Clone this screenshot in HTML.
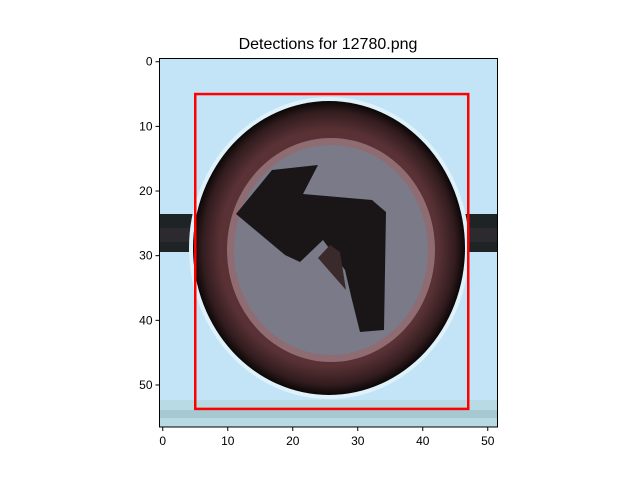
<!DOCTYPE html>
<html><head><meta charset="utf-8"><style>
body{margin:0;background:#fff;}
svg{display:block;font-family:"Liberation Sans","DejaVu Sans",sans-serif;}
</style></head><body>
<svg id="chart" width="640" height="480" viewBox="0 0 640 480">
<text x="328" y="49" font-size="16" text-anchor="middle">Detections for 12780.png</text>
<defs>
<clipPath id="imgclip"><rect x="159.5" y="58.5" width="338" height="368.5"/></clipPath>
<radialGradient id="ring" cx="50%" cy="50%" r="50%">
<stop offset="0.8" stop-color="#5a3236"/><stop offset="0.93" stop-color="#321c1e"/><stop offset="1" stop-color="#0a0606"/>
</radialGradient>
</defs>
<g clip-path="url(#imgclip)">
<rect x="159.5" y="58.5" width="338" height="368.5" fill="#c2e4f6"/>
<rect x="159.5" y="400" width="338" height="27" fill="#b8dae4"/>
<rect x="159.5" y="410" width="338" height="8" fill="#a6c8d0"/>
<rect x="159.5" y="214" width="338" height="38" fill="#1e2426"/>
<rect x="159.5" y="228" width="338" height="14" fill="#2c2a2e"/>
<ellipse cx="329" cy="248" rx="140" ry="151" fill="#dff2fa"/>
<ellipse cx="329" cy="248" rx="136" ry="147" fill="url(#ring)"/>
<ellipse cx="331" cy="250" rx="104" ry="112" fill="#8e6c72"/>
<ellipse cx="331" cy="250" rx="97" ry="105" fill="#7a7a88"/>
<polygon points="236,214 272,170 318,165 303,194 372,200 386,212 384,330 360,332 352,300 345,270 323,240 300,262 285,255" fill="#1a1618"/>
<polygon points="330,245 340,252 346,290 318,258" fill="#3a2a2c"/>
</g>
<rect x="159.5" y="58.5" width="338" height="368.5" fill="none" stroke="#000" stroke-width="1"/>
<g id="xticks"></g><g id="yticks"></g><g id="boxes"></g>
</svg>
<script>
const xTicks=[0,10,20,30,40,50];
const yTicks=[0,10,20,30,40,50];
const boxX1=[5];const boxY1=[5];const boxX2=[47];const boxY2=[53.7];
const X0=159.5,X1=497.5,XMIN=-0.5,XMAX=51.5;
const Y0=58.5,Y1=427,YMIN=-0.5,YMAX=56.5;
function sx(v){return X0+(v-XMIN)/(XMAX-XMIN)*(X1-X0);}
function sy(v){return Y0+(v-YMIN)/(YMAX-YMIN)*(Y1-Y0);}
const NS="http://www.w3.org/2000/svg";
const xg=document.getElementById('xticks'),yg=document.getElementById('yticks'),bg=document.getElementById('boxes');
xTicks.forEach(t=>{
 const l=document.createElementNS(NS,'line');
 
 
 l.setAttribute('x1',sx(t));l.setAttribute('x2',sx(t));l.setAttribute('y1',Y1);l.setAttribute('y2',Y1+4);l.setAttribute('stroke','#000');
 xg.appendChild(l);
 const tx=document.createElementNS(NS,'text');
 
 
 tx.setAttribute('x',sx(t));tx.setAttribute('y',Y1+18);tx.setAttribute('font-size','12');tx.setAttribute('text-anchor','middle');
 tx.textContent=t;xg.appendChild(tx);
});
yTicks.forEach(t=>{
 const l=document.createElementNS(NS,'line');
 
 
 l.setAttribute('x1',X0-4);l.setAttribute('x2',X0);l.setAttribute('y1',sy(t));l.setAttribute('y2',sy(t));l.setAttribute('stroke','#000');
 yg.appendChild(l);
 const tx=document.createElementNS(NS,'text');
 
 
 tx.setAttribute('x',X0-7);tx.setAttribute('y',sy(t)+4);tx.setAttribute('font-size','12');tx.setAttribute('text-anchor','end');
 tx.textContent=t;yg.appendChild(tx);
});
boxX1.forEach((v,i)=>{
 const r=document.createElementNS(NS,'rect');
 
 
 r.setAttribute('x',sx(v));r.setAttribute('y',sy(boxY1[i]));
 r.setAttribute('width',sx(boxX2[i])-sx(v));r.setAttribute('height',sy(boxY2[i])-sy(boxY1[i]));
 r.setAttribute('fill','none');r.setAttribute('stroke','#ff0000');r.setAttribute('stroke-width','2.5');
 bg.appendChild(r);
});
</script>
</body></html>
